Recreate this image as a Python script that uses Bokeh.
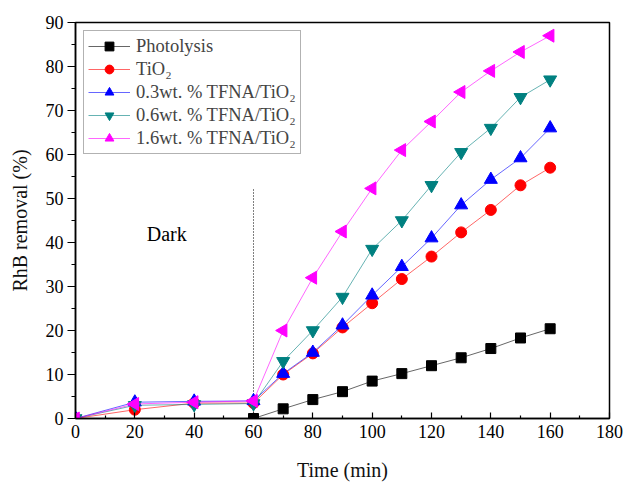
import math
from bokeh.plotting import figure
from bokeh.models import Legend, LegendItem, Label, FixedTicker, Range1d
from bokeh.embed import file_html
from bokeh.resources import INLINE

FONT = "Liberation Serif"

time_dark = [0, 20, 40, 60, 70, 80, 90, 100, 110, 120, 130, 140, 150, 160]
time_photo = [60, 70, 80, 90, 100, 110, 120, 130, 140, 150, 160]

photolysis = [0.0, 2.2, 4.3, 6.1, 8.5, 10.2, 12.0, 13.8, 15.9, 18.3, 20.4]
tio2 = [0.0, 2.0, 3.5, 3.5, 10.0, 14.8, 20.7, 26.2, 31.7, 36.8, 42.3, 47.4, 53.0, 57.0]
tfna03 = [0.0, 3.7, 3.9, 4.0, 10.2, 15.0, 21.2, 28.0, 34.5, 41.0, 48.5, 54.3, 59.2, 66.0]
tfna06 = [0.0, 3.0, 3.2, 3.4, 13.0, 20.0, 27.6, 38.5, 45.0, 53.0, 60.5, 66.0, 73.0, 77.0]
tfna16 = [0.0, 3.3, 3.7, 4.0, 20.0, 32.0, 42.5, 52.3, 61.0, 67.5, 74.2, 79.0, 83.3, 87.0]

labels = ["Photolysis", "TiO\u2082", "0.3wt. % TFNA/TiO\u2082",
          "0.6wt. % TFNA/TiO\u2082", "1.6wt. % TFNA/TiO\u2082"]
x_ticks = [0, 20, 40, 60, 80, 100, 120, 140, 160, 180]
y_ticks = [0, 10, 20, 30, 40, 50, 60, 70, 80, 90]

p = figure(width=626, height=484, output_backend="svg", toolbar_location=None,
           x_range=Range1d(0, 180), y_range=Range1d(0, 90))
p.min_border_left = 75
p.min_border_right = 17
p.min_border_top = 22
p.min_border_bottom = 66
p.background_fill_color = "white"
p.border_fill_color = "white"
p.grid.visible = False
p.outline_line_color = "black"
p.outline_line_width = 1.5

# axes
p.xaxis.ticker = FixedTicker(ticks=x_ticks, minor_ticks=[v + 10 for v in x_ticks[:-1]])
p.yaxis.ticker = FixedTicker(ticks=y_ticks, minor_ticks=[v + 5 for v in y_ticks[:-1]])
p.xaxis.axis_label = "Time (min)"
p.yaxis.axis_label = "RhB removal (%)"
for ax in (p.xaxis, p.yaxis):
    ax.axis_label_text_font = FONT
    ax.axis_label_text_font_style = "normal"
    ax.axis_label_text_font_size = "20px"
    ax.major_label_text_font = FONT
    ax.major_label_text_font_size = "18px"
    ax.axis_line_color = "black"
    ax.axis_line_width = 1.5
    ax.major_tick_line_color = "black"
    ax.minor_tick_line_color = "black"
    ax.major_tick_line_width = 1.2
    ax.minor_tick_line_width = 1.2
    ax.major_label_text_color = "black"
    ax.axis_label_text_color = "#111111"
p.xaxis.major_tick_in = 6
p.xaxis.major_tick_out = 0
p.xaxis.minor_tick_in = 3
p.xaxis.minor_tick_out = 0
p.xaxis.major_label_standoff = 6
p.xaxis.axis_label_standoff = 18
p.yaxis.major_tick_in = 0
p.yaxis.major_tick_out = 8
p.yaxis.minor_tick_in = 0
p.yaxis.minor_tick_out = 4
p.yaxis.major_label_standoff = 4
p.yaxis.axis_label_standoff = 12

# dark/light boundary
p.segment(x0=[60], y0=[0], x1=[60], y1=[52.5], line_color="black",
          line_width=1, line_dash="1 2")

series = [
    (time_photo, photolysis, "black", "square", 0.0, 10),
    (time_dark, tio2, "red", "circle", 0.0, 11),
    (time_dark, tfna03, "blue", "triangle", 0.0, 13),
    (time_dark, tfna06, "teal", "inverted_triangle", 0.0, 13),
    (time_dark, tfna16, "magenta", "triangle", math.pi / 2, 13),
]

items = []
for (xs, ys, color, marker, ang, size), lab in zip(series, labels):
    ln = p.line(xs, ys, line_color=color, line_width=1, line_alpha=0.6)
    sc = p.scatter(xs, ys, marker=marker, size=size, angle=ang,
                   fill_color=color, line_color=color)
    items.append(LegendItem(label=lab, renderers=[ln, sc]))

legend = Legend(items=items, location="top_left")
legend.margin = 8
legend.padding = 4
legend.spacing = 1
legend.label_text_font = FONT
legend.label_text_font_size = "18.5px"
legend.label_height = 22
legend.glyph_height = 22
legend.glyph_width = 42
legend.label_standoff = 6
legend.border_line_color = "#666666"
legend.border_line_width = 1
legend.background_fill_alpha = 1.0
p.add_layout(legend)

p.add_layout(Label(x=24, y=42, text="Dark", text_font=FONT,
                   text_font_size="20px", text_baseline="alphabetic",
                   text_color="black"))

open("out.html", "w").write(file_html(p, INLINE))
